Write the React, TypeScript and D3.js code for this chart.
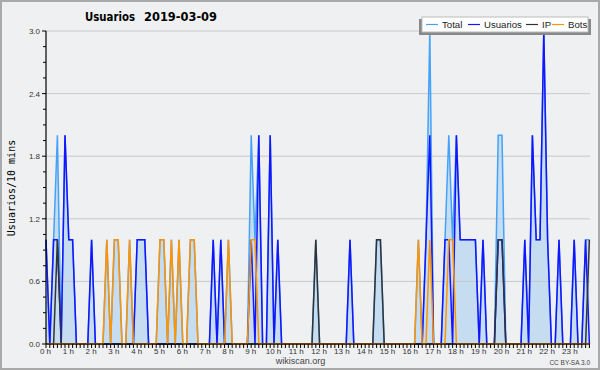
import React from 'react';
import * as d3 from 'd3';

// 10-minute intervals (144 per day), grouped by hour (6 per row)
const usuarios = [
  1, 0, 1, 1, 0, 2,
  1, 1, 0, 0, 0, 0,
  1, 0, 0, 0, 0, 0,
  0, 0, 0, 0, 0, 0,
  1, 1, 1, 0, 0, 0,
  0, 0, 0, 0, 0, 0,
  0, 0, 0, 0, 0, 0,
  0, 0, 1, 0, 1, 0,
  0, 0, 0, 0, 0, 0,
  1, 0, 2, 0, 0, 2,
  0, 1, 0, 0, 0, 0,
  0, 0, 0, 0, 0, 0,
  0, 0, 0, 0, 0, 0,
  0, 0, 1, 0, 0, 0,
  0, 0, 0, 0, 0, 0,
  0, 0, 0, 0, 0, 0,
  0, 0, 0, 0, 1, 2,
  0, 0, 0, 1, 1, 0,
  2, 1, 1, 1, 1, 1,
  0, 1, 0, 0, 0, 1,
  1, 0, 0, 0, 0, 0,
  1, 0, 2, 1, 1, 3,
  1, 0, 0, 1, 0, 0,
  0, 1, 0, 0, 1, 0,
];

const ip = [
  0, 0, 0, 1, 0, 0,
  0, 0, 0, 0, 0, 0,
  0, 0, 0, 0, 0, 0,
  0, 0, 0, 0, 0, 0,
  0, 0, 0, 0, 0, 0,
  0, 0, 0, 0, 0, 0,
  0, 0, 0, 0, 0, 0,
  0, 0, 0, 0, 0, 0,
  0, 0, 0, 0, 0, 0,
  0, 0, 0, 0, 0, 0,
  0, 0, 0, 0, 0, 0,
  0, 0, 0, 0, 0, 1,
  0, 0, 0, 0, 0, 0,
  0, 0, 0, 0, 0, 0,
  0, 0, 0, 1, 1, 0,
  0, 0, 0, 0, 0, 0,
  0, 0, 0, 0, 0, 0,
  0, 0, 0, 0, 0, 0,
  0, 0, 0, 0, 0, 0,
  0, 0, 0, 0, 0, 1,
  1, 0, 0, 0, 0, 0,
  0, 0, 0, 0, 0, 0,
  0, 0, 0, 0, 0, 0,
  0, 0, 0, 0, 0, 1,
];

const bots = [
  0, 0, 0, 0, 0, 0,
  0, 0, 0, 0, 0, 0,
  0, 0, 0, 0, 1, 0,
  1, 1, 0, 0, 1, 0,
  0, 0, 0, 0, 0, 0,
  1, 1, 0, 1, 0, 1,
  0, 0, 1, 1, 0, 0,
  0, 0, 0, 0, 0, 0,
  1, 0, 0, 0, 0, 0,
  1, 1, 0, 0, 0, 0,
  0, 0, 0, 0, 0, 0,
  0, 0, 0, 0, 0, 0,
  0, 0, 0, 0, 0, 0,
  0, 0, 0, 0, 0, 0,
  0, 0, 0, 0, 0, 0,
  0, 0, 0, 0, 0, 0,
  0, 0, 1, 0, 0, 1,
  0, 0, 0, 0, 1, 1,
  0, 0, 0, 0, 0, 0,
  0, 0, 0, 0, 0, 0,
  0, 0, 0, 0, 0, 0,
  0, 0, 0, 0, 0, 0,
  0, 0, 0, 0, 0, 0,
  0, 0, 0, 0, 0, 0,
];

const total = [
  1, 0, 1, 2, 0, 2,
  1, 1, 0, 0, 0, 0,
  1, 0, 0, 0, 1, 0,
  1, 1, 0, 0, 1, 0,
  1, 1, 1, 0, 0, 0,
  1, 1, 0, 1, 0, 1,
  0, 0, 1, 1, 0, 0,
  0, 0, 1, 0, 1, 0,
  1, 0, 0, 0, 0, 0,
  2, 1, 2, 0, 0, 2,
  0, 1, 0, 0, 0, 0,
  0, 0, 0, 0, 0, 1,
  0, 0, 0, 0, 0, 0,
  0, 0, 1, 0, 0, 0,
  0, 0, 0, 1, 1, 0,
  0, 0, 0, 0, 0, 0,
  0, 0, 1, 0, 1, 3,
  0, 0, 0, 1, 2, 1,
  2, 1, 1, 1, 1, 1,
  0, 1, 0, 0, 0, 2,
  2, 0, 0, 0, 0, 0,
  1, 0, 2, 1, 1, 3,
  1, 0, 0, 1, 0, 0,
  0, 1, 0, 0, 1, 1,
];

const hourLabels = [
  '0 h', '1 h', '2 h', '3 h', '4 h', '5 h', '6 h', '7 h', '8 h', '9 h', '10 h', '11 h',
  '12 h', '13 h', '14 h', '15 h', '16 h', '17 h', '18 h', '19 h', '20 h', '21 h', '22 h', '23 h',
];
const yTickValues = [0, 0.6, 1.2, 1.8, 2.4, 3.0];
const yTickLabels = ['0.0', '0.6', '1.2', '1.8', '2.4', '3.0'];

const seriesNames = ['Total', 'Usuarios', 'IP', 'Bots'];
const seriesColors = ['#44a2f8', '#1414ff', '#333333', '#ff9400'];

const W = 600;
const H = 370;

export default function App() {
  const x = d3.scaleLinear().domain([0, 143]).range([46, 589.4]);
  const y = d3.scaleLinear().domain([0, 3]).range([344, 31]);

  const line = d3
    .line<number>()
    .x((_, i) => x(i))
    .y((d) => y(d));
  const area = d3
    .area<number>()
    .x((_, i) => x(i))
    .y0(y(0))
    .y1((d) => y(d));

  const minorY = d3.range(0, 21).map((k) => k * 0.15);
  const xTicks = d3.range(0, 144);

  const legendX = [426, 468, 526, 552];

  return (
    <svg
      width={W}
      height={H}
      style={{ position: 'absolute', left: 0, top: 0, display: 'block' }}
      fontFamily="'Liberation Sans', Arial, sans-serif"
    >
      <rect x={0} y={0} width={W} height={H} fill="#eff0f1" />
      <rect x={1} y={1} width={W - 2} height={H - 2} fill="none" stroke="#a9a9a9" strokeWidth={2} />

      {/* total fill */}
      <path d={area(total) || ''} fill="#c6ddf1" />

      {/* grid */}
      {yTickValues.slice(1).map((v) => (
        <line key={v} x1={46} x2={590} y1={y(v)} y2={y(v)} stroke="#c9c9c9" strokeWidth={1} />
      ))}

      {/* series lines */}
      <path d={line(total) || ''} fill="none" stroke={seriesColors[0]} strokeWidth={1.5} />
      <path d={line(usuarios) || ''} fill="none" stroke={seriesColors[1]} strokeWidth={1.5} />
      <path d={line(ip) || ''} fill="none" stroke={seriesColors[2]} strokeWidth={1.5} />
      <path d={line(bots) || ''} fill="none" stroke={seriesColors[3]} strokeWidth={1.5} />

      {/* y axis */}
      <line x1={46} x2={46} y1={y(3)} y2={y(0)} stroke="#000" strokeWidth={1.2} />
      {minorY.map((v, k) => (
        <line
          key={'ym' + k}
          x1={k % 4 === 0 ? 42 : 43}
          x2={46}
          y1={y(v)}
          y2={y(v)}
          stroke="#000"
          strokeWidth={1}
        />
      ))}
      {yTickValues.map((v, k) => (
        <text key={'yl' + k} x={40} y={y(v) + 3} fontSize={8} textAnchor="end" fill="#333">
          {yTickLabels[k]}
        </text>
      ))}

      {/* x axis */}
      <line x1={46} x2={590} y1={344} y2={344} stroke="#000" strokeWidth={1.2} />
      {xTicks.map((i) => (
        <line key={'xt' + i} x1={x(i)} x2={x(i)} y1={344} y2={348} stroke="#000" strokeWidth={1} />
      ))}
      {hourLabels.map((lab, h) => (
        <text key={'xl' + h} x={x(h * 6) - 0.5} y={353.5} fontSize={8} textAnchor="middle" fill="#333">
          {lab}
        </text>
      ))}

      {/* title */}
      <text x={85} y={21} fontSize={13} fontWeight="bold" fontFamily="'DejaVu Sans', sans-serif" textLength={50} lengthAdjust="spacingAndGlyphs">
        Usuarios
      </text>
      <text x={144} y={21} fontSize={13} fontWeight="bold" fontFamily="'DejaVu Sans', sans-serif" textLength={73} lengthAdjust="spacingAndGlyphs">
        2019-03-09
      </text>

      {/* y label */}
      <text
        transform="translate(15,188) rotate(-90)"
        fontSize={10}
        textAnchor="middle"
        fontFamily="'DejaVu Sans Mono', monospace"
      >
        Usuarios/10 mins
      </text>

      {/* legend */}
      <rect x={419} y={19} width={172} height={16} fill="#888" />
      <rect x={422} y={17} width={166} height={15} fill="#fff" stroke="#bbb" strokeWidth={1} />
      {seriesNames.map((name, k) => (
        <g key={name}>
          <line x1={legendX[k]} x2={legendX[k] + 12} y1={24.5} y2={24.5} stroke={seriesColors[k]} strokeWidth={1.2} />
          <text x={legendX[k] + 16} y={28} fontSize={9.6} fill="#222">
            {name}
          </text>
        </g>
      ))}

      {/* footer */}
      <text x={300.5} y={364} fontSize={9} textAnchor="middle" fill="#444">
        wikiscan.org
      </text>
      <text x={590} y={365} fontSize={6.5} textAnchor="end" fill="#444">
        CC BY-SA 3.0
      </text>
    </svg>
  );
}
